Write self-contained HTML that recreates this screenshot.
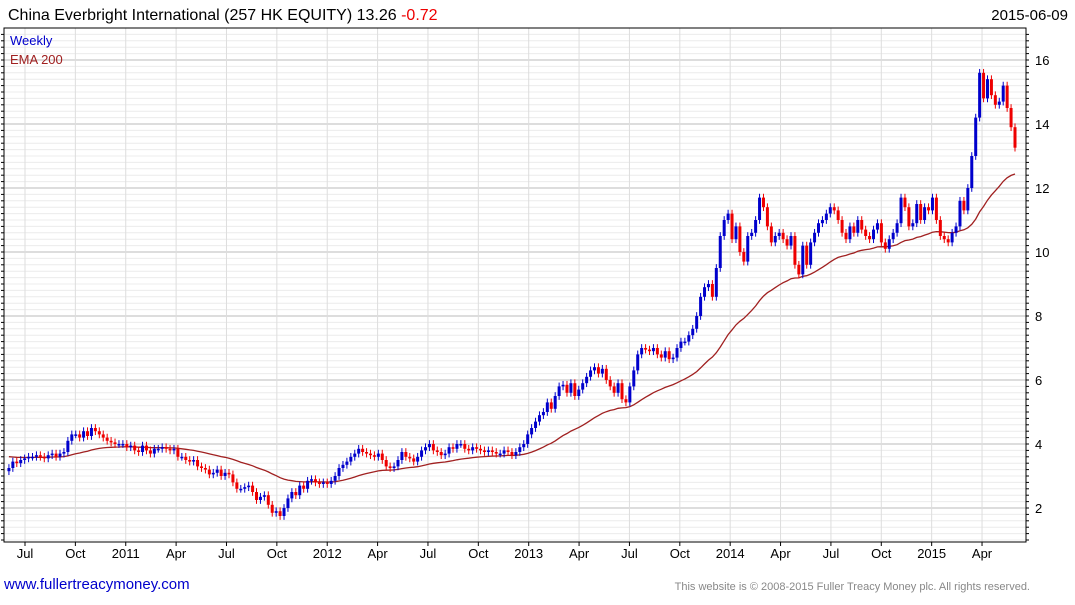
<!DOCTYPE html>
<html><head><meta charset="utf-8"><style>
body{margin:0;background:#fff;width:1075px;height:600px;overflow:hidden;font-family:"Liberation Sans",sans-serif}
</style></head><body>
<svg id="chart" width="1075" height="600" xmlns="http://www.w3.org/2000/svg" font-family="Liberation Sans, sans-serif">
<text x="8" y="20" font-size="16" fill="#000">China Everbright International (257 HK EQUITY) 13.26 <tspan fill="#e00">-0.72</tspan></text>
<text x="1068" y="20" font-size="15" text-anchor="end" fill="#000">2015-06-09</text>
<g id="grid"></g>
<g id="ema"></g>
<g id="candles"></g>
<rect x="4" y="28" width="1022" height="514" fill="none" stroke="#000" stroke-width="1"/>
<g id="axes"></g>
<text x="10" y="45" font-size="13" fill="#0000cc">Weekly</text>
<text x="10" y="64" font-size="13" fill="#a02020">EMA 200</text>
<text x="4" y="589" font-size="15" fill="#0000cc">www.fullertreacymoney.com</text>
<text x="1030" y="590" font-size="11" text-anchor="end" fill="#888">This website is © 2008-2015 Fuller Treacy Money plc. All rights reserved.</text>
</svg>
<script>
const closes = [3.25,3.45,3.4,3.5,3.55,3.6,3.6,3.65,
3.6,3.55,3.65,3.7,3.6,3.7,3.75,4.1,4.3,
4.3,4.2,4.4,4.25,4.5,4.4,4.3,4.2,4.1,4.05,
4.0,4.0,4.0,3.9,3.95,3.8,3.75,3.95,3.8,
3.7,3.85,3.85,3.9,3.85,3.8,3.85,3.6,3.6,3.5,3.45,3.5,3.3,
3.25,3.2,3.05,3.1,3.2,3.0,3.1,3.05,2.8,2.6,2.6,2.65,
2.7,2.5,2.25,2.35,2.4,2.1,1.85,1.9,
1.75,2.0,2.3,2.5,
2.4,2.7,2.6,2.85,2.9,2.8,2.75,2.8,2.75,2.85,3.0,3.25,
3.35,3.45,3.6,3.7,3.85,3.75,3.7,3.65,3.6,3.7,3.5,3.3,
3.25,3.3,3.5,3.75,3.6,3.55,3.45,3.6,3.8,3.9,4.0,3.8,3.75,
3.65,3.7,3.9,3.85,4.0,4.0,3.85,3.8,3.9,3.85,3.8,3.75,3.8,
3.75,3.7,3.7,3.8,3.75,3.65,3.75,3.9,4.0,4.3,
4.5,4.7,4.9,5.0,5.3,5.1,5.5,5.8,5.85,5.6,
5.9,5.5,5.7,5.9,6.1,6.3,6.4,6.2,6.35,6.0,
5.8,5.6,5.9,5.4,5.3,5.8,6.3,6.8,7.0,6.95,
6.9,7.0,6.8,6.7,6.9,6.65,6.7,7.0,7.2,7.2,
7.4,7.6,8.0,8.6,8.9,9.0,8.6,9.5,10.5,11.0,
11.2,10.4,10.8,10.0,9.7,10.5,10.6,11.0,11.7,11.4,
10.8,10.3,10.5,10.6,10.4,10.2,10.5,9.6,9.3,10.2,
9.6,10.3,10.6,10.9,11.0,11.2,11.4,11.3,11.0,10.6,
10.4,10.8,10.6,11.0,10.7,10.5,10.4,10.7,10.9,10.3,
10.1,10.4,10.6,10.9,11.7,11.4,10.8,10.9,11.5,11.0,
11.4,11.3,11.7,11.0,10.5,10.4,10.3,10.6,10.8,11.6,
11.3,12.0,13.0,14.2,15.6,14.8,15.4,14.9,14.6,14.7,15.2,14.5,13.9,13.26];
const firstOpen = 3.15;
const emaSeed = 3.62;
const emaPeriod = 40;
const yTicks = [2,4,6,8,10,12,14,16];
const xLabels = ["Jul","Oct","2011","Apr","Jul","Oct","2012","Apr","Jul","Oct","2013","Apr","Jul","Oct","2014","Apr","Jul","Oct","2015","Apr"];

const NS="http://www.w3.org/2000/svg";
const yScale = v => 572 - v*32;
const xScale = i => 1015 - (closes.length-1-i)*3.93;
const xLabelPos = k => 25 + k*50.37;
function mk(tag, attrs, parent){const e=document.createElementNS(NS,tag);for(const k in attrs)e.setAttribute(k,attrs[k]);parent.appendChild(e);return e;}
const grid=document.getElementById('grid'), axes=document.getElementById('axes');
for(let v=1.0; v<=16.8; v+=0.2){
  const r=Math.round(v*10)/10; const y=yScale(r);
  if(y<29||y>541) continue;
  const major = Math.abs(r-Math.round(r))<0.01 && Math.round(r)%2===0;
  const l=mk('line',{x1:4,x2:1026,y1:y,y2:y,stroke:major?'#bbb':'#ececec','stroke-width':1},grid);
  
  
  const t=mk('line',{x1:1026,x2:1029,y1:y,y2:y,stroke:'#000'},axes);
  
  
  const t2=mk('line',{x1:4,x2:1,y1:y,y2:y,stroke:'#000'},axes);
  
  
}
yTicks.forEach(v=>{
  const t=mk('text',{x:1035,y:yScale(v)+5,'font-size':13,fill:'#000'},axes);
  t.textContent=v;
  
  
});
xLabels.forEach((s,k)=>{
  const x=xLabelPos(k);
  const g=mk('line',{x1:x,x2:x,y1:28,y2:542,stroke:'#ddd'},grid);
  
  
  const tk=mk('line',{x1:x,x2:x,y1:542,y2:546,stroke:'#000'},axes);
  
  
  const t=mk('text',{x:x,y:558,'font-size':13,'text-anchor':'middle',fill:'#000'},axes);
  t.textContent=s;
  
  
});
let e=emaSeed; const a=2/(emaPeriod+1); let pts=[];
closes.forEach((c,i)=>{e=e+a*(c-e);pts.push(xScale(i).toFixed(1)+','+yScale(e).toFixed(1));});
const pl=mk('polyline',{points:pts.join(' '),fill:'none',stroke:'#a02020','stroke-width':1.3},document.getElementById('ema'));


const cg=document.getElementById('candles');
closes.forEach((c,i)=>{
  const o=i===0?firstOpen:closes[i-1];
  const up=c>=o; const col=up?'#0000cc':'#ee0000';
  const x=xScale(i); const hi=Math.max(o,c)+0.12, lo=Math.min(o,c)-0.12;
  const w=mk('line',{x1:x,x2:x,y1:yScale(hi),y2:yScale(lo),stroke:col,'stroke-width':1},cg);
  
  
  const top=yScale(Math.max(o,c)); const h=Math.max(1.5,yScale(Math.min(o,c))-top);
  const b=mk('rect',{x:x-1.5,y:top,width:3,height:h,fill:col},cg);
  
  
});
</script>
</body></html>
